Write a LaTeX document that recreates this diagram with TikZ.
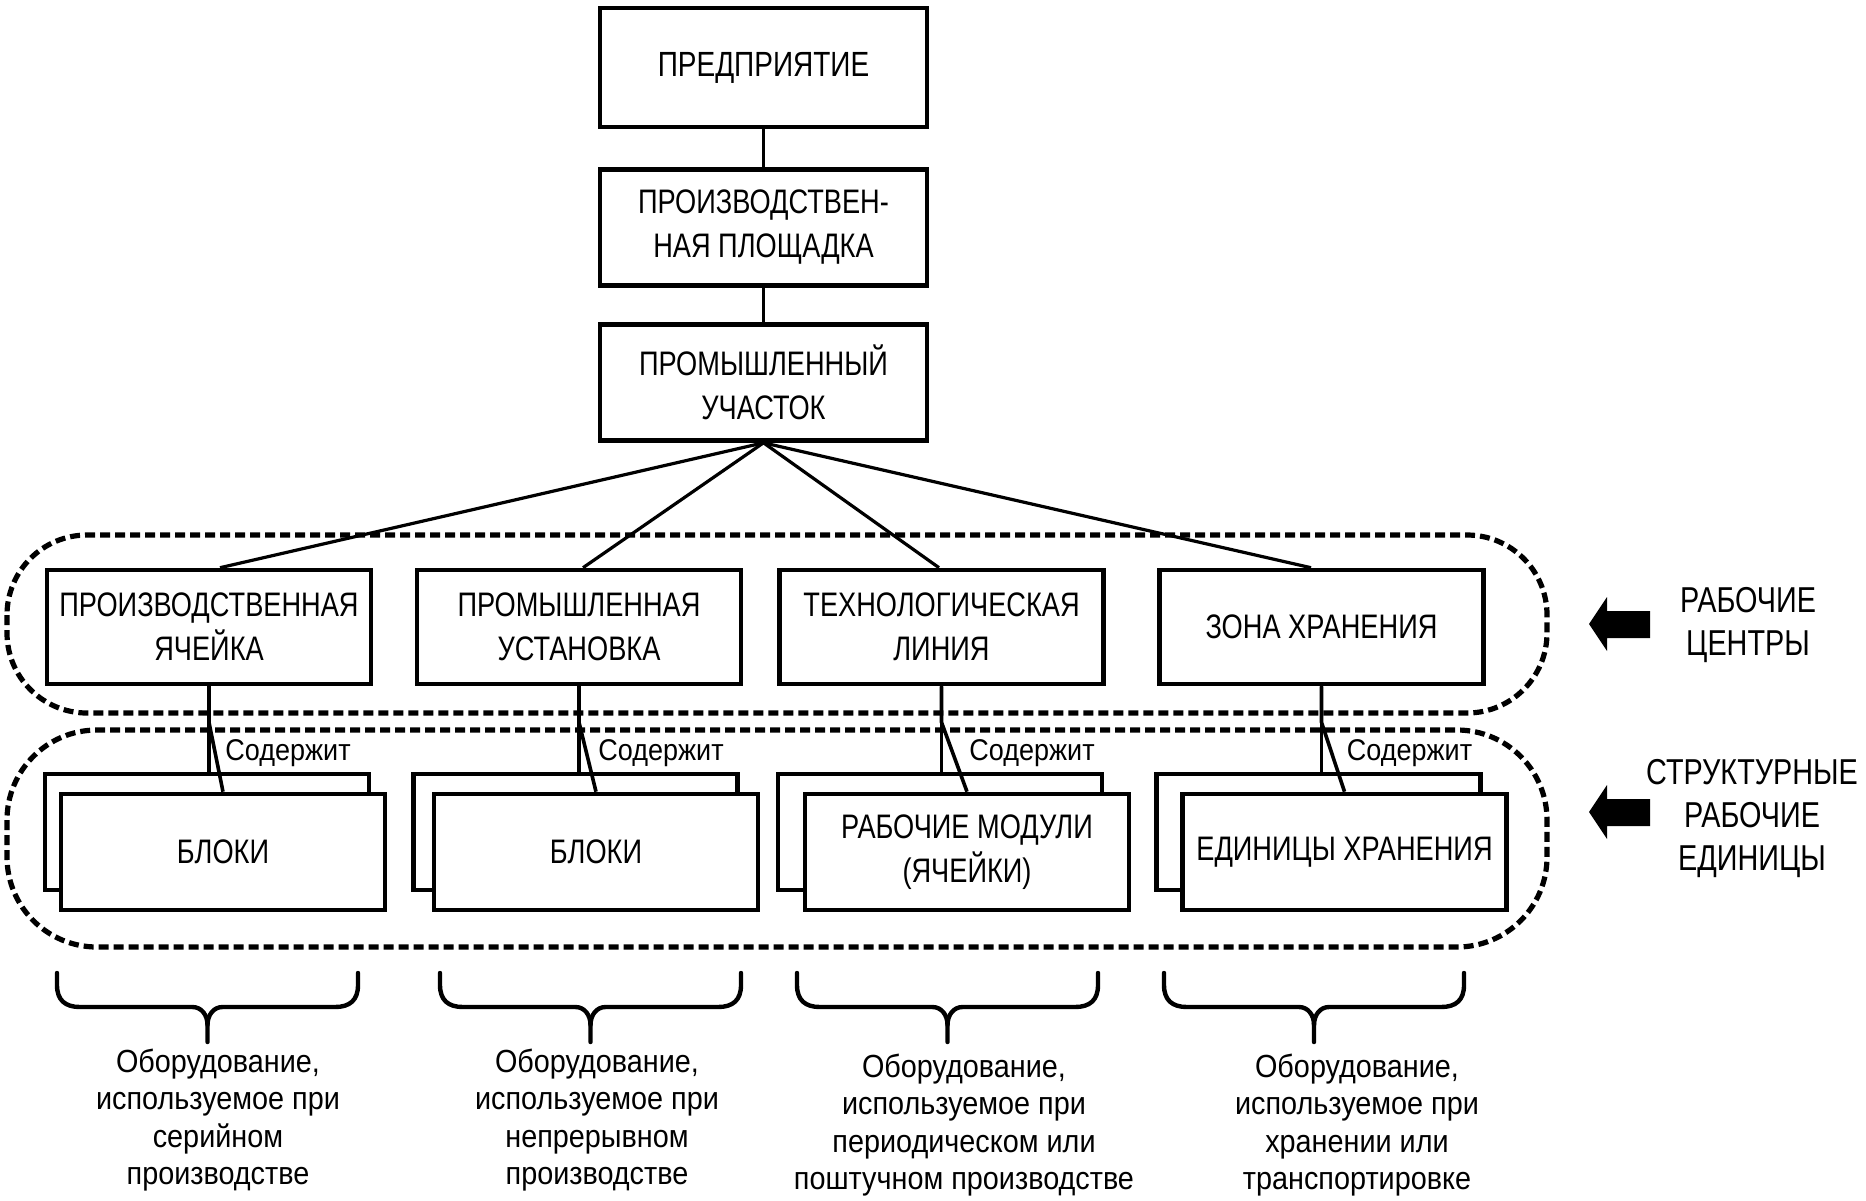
\documentclass[tikz,border=0pt]{standalone}
\usepackage{fontspec}
\setmainfont{Liberation Sans}[FakeStretch=0.9]
\newfontfamily\capsfont{Liberation Sans}[FakeStretch=0.8]
\usetikzlibrary{calc}
\begin{document}
\begin{tikzpicture}[x=0.5pt,y=-0.5pt,
 box/.style={draw,line width=2.3pt,fill=white,align=center,inner sep=0pt,
   minimum width=162pt,minimum height=57pt,font=\capsfont\fontsize{17}{22}\selectfont},
 topbox/.style={box,minimum width=163.5pt,minimum height=58pt},
 unitbox/.style={box,minimum width=162pt,minimum height=58pt},
 link/.style={line width=1.8pt},
 fan/.style={line width=1.6pt},
 grp/.style={line width=2.6pt,dash pattern=on 5pt off 2.5pt},
 lbl/.style={font=\fontsize{15}{18}\selectfont,inner sep=0pt},
 note/.style={align=center,font=\fontsize{16}{18.75}\selectfont,inner sep=0pt},
 side/.style={align=center,font=\capsfont\fontsize{18}{21.5}\selectfont,inner sep=0pt},
 bracepath/.style={line width=2.2pt,line join=round,line cap=round},
 blockarrow/.style={fill=black}
]
\fill[white] (0,0) rectangle (1866,1200);
\useasboundingbox (0,0) rectangle (1866,1200);

% groups
\draw[grp,rounded corners=40pt] (7,535) rectangle (1547,713);
\draw[grp,rounded corners=45pt] (7,730) rectangle (1547,947);

% top chain
\node[topbox,minimum height=59.5pt,font=\capsfont\fontsize{17.5}{22}\selectfont] (ent) at (763.5,67.5) {ПРЕДПРИЯТИЕ};
\node[topbox] (site) at (763.5,227.5) {ПРОИЗВОДСТВЕН-\\НАЯ ПЛОЩАДКА};
\node[topbox] (area) at (763.5,382.5) {ПРОМЫШЛЕННЫЙ\\УЧАСТОК};
\draw[link] (ent) -- (site);
\draw[link] (site) -- (area);

% work centres
\node[box] (wcA) at (209,627) {ПРОИЗВОДСТВЕННАЯ\\ЯЧЕЙКА};
\node[box] (wcB) at (579,627) {ПРОМЫШЛЕННАЯ\\УСТАНОВКА};
\node[box] (wcC) at (941.5,627) {ТЕХНОЛОГИЧЕСКАЯ\\ЛИНИЯ};
\node[box] (wcD) at (1321.5,627) {ЗОНА ХРАНЕНИЯ};

\draw[fan] (area.south) -- ([xshift=5.5pt]wcA.north);
\draw[fan] (area.south) -- ([xshift=2pt]wcB.north);
\draw[fan] (area.south) -- ([xshift=-1.25pt]wcC.north);
\draw[fan] (area.south) -- ([xshift=-5.25pt]wcD.north);

% structural units: back boxes
\node[unitbox] (bkA) at (207,832) {};
\node[unitbox] (bkB) at (575.5,832) {};
\node[unitbox] (bkC) at (940,832) {};
\node[unitbox] (bkD) at (1318.5,832) {};
\foreach \w/\b in {wcA/bkA,wcB/bkB,wcC/bkC,wcD/bkD}{
  \draw[link] (\w.south) -- (\w.south |- \b.north);
}
% front boxes
\node[unitbox] (frA) at (223,852) {БЛОКИ};
\node[unitbox] (frB) at (596,852) {БЛОКИ};
\node[unitbox] (frC) at (967,852) {РАБОЧИЕ МОДУЛИ\\(ЯЧЕЙКИ)};
\node[unitbox] (frD) at (1344.5,852) {ЕДИНИЦЫ ХРАНЕНИЯ};
\foreach \w/\f in {wcA/frA,wcB/frB,wcC/frC,wcD/frD}{
  \draw[link] (\w.south) -- ([yshift=-18pt]\w.south) -- (\f.north);
}
\node[lbl,anchor=base west] (cA) at ([xshift=1pt,yshift=15.5pt]frA.north) {Содержит};
\node[lbl,anchor=base west] (cB) at ([xshift=1pt,yshift=15.5pt]frB.north) {Содержит};
\node[lbl,anchor=base west] (cC) at ([xshift=1pt,yshift=15.5pt]frC.north) {Содержит};
\node[lbl,anchor=base west] (cD) at ([xshift=1pt,yshift=15.5pt]frD.north) {Содержит};

% braces
\foreach \L/\R in {57/358,440/741,797/1098,1164/1464}{
  \pgfmathsetmacro\M{(\L+\R)/2}
  \draw[bracepath] (\L,973) -- (\L,985) .. controls (\L,1000) and ({\L+8},1007) .. ({\L+23},1007)
     -- ({\M-15},1007) .. controls ({\M-6},1007) and (\M,1015) .. (\M,1025) -- (\M,1042);
  \draw[bracepath] (\M,1025) .. controls (\M,1015) and ({\M+6},1007) .. ({\M+15},1007)
     -- ({\R-23},1007) .. controls ({\R-8},1007) and (\R,1000) .. (\R,985) -- (\R,973);
}

% notes
\node[note] (nA) at (218,1120) {Оборудование,\\используемое при\\серийном\\производстве};
\node[note] (nB) at (597,1120) {Оборудование,\\используемое при\\непрерывном\\производстве};
\node[note] (nC) at (964,1125) {Оборудование,\\используемое при\\периодическом или\\поштучном производстве};
\node[note] (nD) at (1357,1125) {Оборудование,\\используемое при\\хранении или\\транспортировке};

% legend
\fill (1589,624) -- (1607,597) -- (1607,611) -- (1650,611) -- (1650,638) -- (1607,638) -- (1607,651) -- cycle;
\fill (1589,812) -- (1607,785) -- (1607,799) -- (1650,799) -- (1650,826) -- (1607,826) -- (1607,839) -- cycle;
\node[side] (rc) at (1748,625) {РАБОЧИЕ\\ЦЕНТРЫ};
\node[side] (su) at (1752,818) {СТРУКТУРНЫЕ\\РАБОЧИЕ\\ЕДИНИЦЫ};
\end{tikzpicture}
\end{document}
